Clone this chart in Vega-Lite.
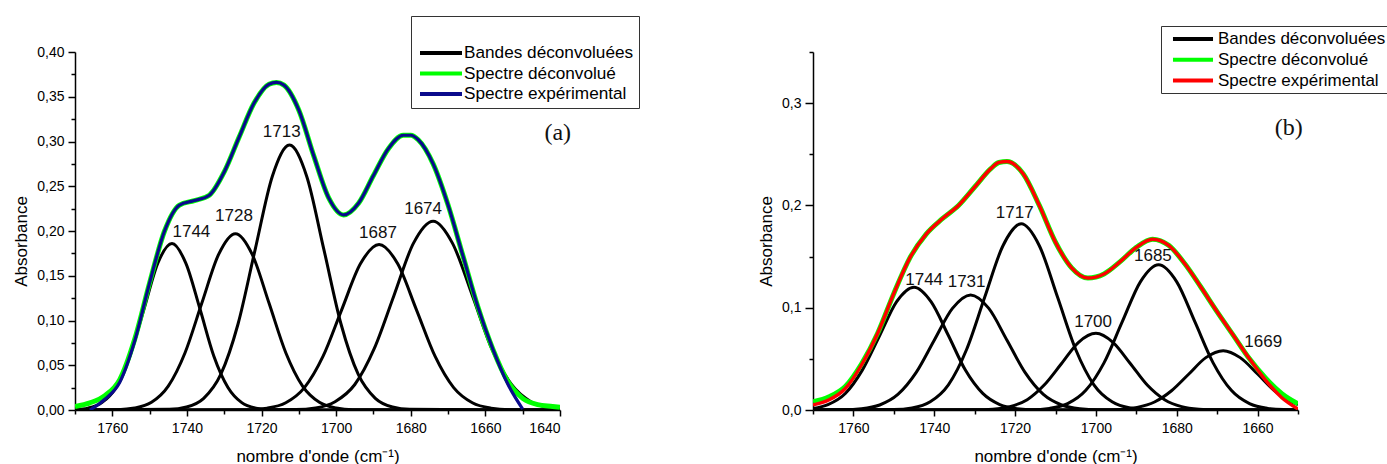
{
  "$schema": "https://vega.github.io/schema/vega-lite/v6.json",
  "padding": {"left": 12, "top": 15, "right": 0, "bottom": 0},
  "config": {
    "view": {"stroke": null},
    "font": "Liberation Sans",
    "axis": {"domainColor": "#000", "domainWidth": 1.5, "tickColor": "#000", "tickWidth": 1.5, "labelColor": "#000", "labelFont": "Liberation Sans", "labelFontSize": 14, "titleFont": "Liberation Sans", "titleFontSize": 17, "titleFontWeight": "normal", "titleColor": "#000", "grid": false}
  },
  "spacing": 253,
  "bounds": "flush",
  "resolve": {"scale": {"x": "independent", "y": "independent", "color": "independent"}},
  "datasets": {
    "a_bands": [
      {"b":1,"w":1770,"a":0.0004},{"b":1,"w":1766.5,"a":0.0021},{"b":1,"w":1762.8,"a":0.0082},{"b":1,"w":1759,"a":0.0252},{"b":1,"w":1755.3,"a":0.0604},{"b":1,"w":1751.5,"a":0.1128},{"b":1,"w":1747.8,"a":0.1641},{"b":1,"w":1744,"a":0.186},{"b":1,"w":1740.3,"a":0.1641},{"b":1,"w":1736.5,"a":0.1128},{"b":1,"w":1732.8,"a":0.0604},{"b":1,"w":1729,"a":0.0252},{"b":1,"w":1725.3,"a":0.0082},{"b":1,"w":1721.5,"a":0.0021},{"b":1,"w":1717.8,"a":0.0004},{"b":1,"w":1640,"a":0},
      {"b":2,"w":1770,"a":0},{"b":2,"w":1758.5,"a":0.0004},{"b":2,"w":1754,"a":0.0022},{"b":2,"w":1749.5,"a":0.0086},{"b":2,"w":1745,"a":0.0267},{"b":2,"w":1740.5,"a":0.064},{"b":2,"w":1736,"a":0.1195},{"b":2,"w":1731.5,"a":0.1739},{"b":2,"w":1727,"a":0.197},{"b":2,"w":1722.5,"a":0.1739},{"b":2,"w":1718,"a":0.1195},{"b":2,"w":1713.5,"a":0.064},{"b":2,"w":1709,"a":0.0267},{"b":2,"w":1704.5,"a":0.0086},{"b":2,"w":1700,"a":0.0022},{"b":2,"w":1695.5,"a":0.0004},{"b":2,"w":1640,"a":0},
      {"b":3,"w":1770,"a":0},{"b":3,"w":1744.7,"a":0.0007},{"b":3,"w":1740.1,"a":0.0033},{"b":3,"w":1735.5,"a":0.013},{"b":3,"w":1730.9,"a":0.04},{"b":3,"w":1726.3,"a":0.0961},{"b":3,"w":1721.7,"a":0.1795},{"b":3,"w":1717.1,"a":0.2612},{"b":3,"w":1712.5,"a":0.296},{"b":3,"w":1707.9,"a":0.2612},{"b":3,"w":1703.3,"a":0.1795},{"b":3,"w":1698.7,"a":0.0961},{"b":3,"w":1694.1,"a":0.04},{"b":3,"w":1689.5,"a":0.013},{"b":3,"w":1684.9,"a":0.0033},{"b":3,"w":1680.3,"a":0.0007},{"b":3,"w":1640,"a":0},
      {"b":4,"w":1770,"a":0},{"b":4,"w":1723.5,"a":0.0004},{"b":4,"w":1718.5,"a":0.0021},{"b":4,"w":1713.5,"a":0.0081},{"b":4,"w":1708.5,"a":0.025},{"b":4,"w":1703.5,"a":0.0601},{"b":4,"w":1698.5,"a":0.1122},{"b":4,"w":1693.5,"a":0.1633},{"b":4,"w":1688.5,"a":0.185},{"b":4,"w":1683.5,"a":0.1633},{"b":4,"w":1678.5,"a":0.1122},{"b":4,"w":1673.5,"a":0.0601},{"b":4,"w":1668.5,"a":0.025},{"b":4,"w":1663.5,"a":0.0081},{"b":4,"w":1658.5,"a":0.0021},{"b":4,"w":1653.5,"a":0.0004},{"b":4,"w":1640,"a":0},
      {"b":5,"w":1770,"a":0},{"b":5,"w":1710.8,"a":0.0005},{"b":5,"w":1705.5,"a":0.0023},{"b":5,"w":1700.3,"a":0.0093},{"b":5,"w":1695,"a":0.0285},{"b":5,"w":1689.8,"a":0.0685},{"b":5,"w":1684.5,"a":0.128},{"b":5,"w":1679.3,"a":0.1862},{"b":5,"w":1674,"a":0.211},{"b":5,"w":1668.8,"a":0.1862},{"b":5,"w":1663.5,"a":0.128},{"b":5,"w":1658.3,"a":0.0685},{"b":5,"w":1653,"a":0.0285},{"b":5,"w":1647.8,"a":0.0093},{"b":5,"w":1642.5,"a":0.0023},{"b":5,"w":1640,"a":0.001}
    ],
    "a_green": [
      {"w":1770,"a":0.004},{"w":1766,"a":0.008},{"w":1762,"a":0.016},{"w":1758,"a":0.034},{"w":1754,"a":0.079},{"w":1750,"a":0.142},{"w":1746,"a":0.2},{"w":1742,"a":0.229},{"w":1738,"a":0.234},{"w":1734,"a":0.24},{"w":1730,"a":0.266},{"w":1726,"a":0.305},{"w":1722,"a":0.343},{"w":1718,"a":0.364},{"w":1716,"a":0.366},{"w":1714,"a":0.363},{"w":1710,"a":0.335},{"w":1706,"a":0.284},{"w":1702,"a":0.237},{"w":1698,"a":0.218},{"w":1694,"a":0.231},{"w":1690,"a":0.262},{"w":1686,"a":0.292},{"w":1682,"a":0.307},{"w":1680,"a":0.307},{"w":1678,"a":0.302},{"w":1674,"a":0.275},{"w":1670,"a":0.229},{"w":1666,"a":0.172},{"w":1662,"a":0.115},{"w":1658,"a":0.068},{"w":1654,"a":0.032},{"w":1650,"a":0.013},{"w":1646,"a":0.006},{"w":1642,"a":0.004},{"w":1640,"a":0.003}
    ],
    "a_blue": [
      {"w":1766,"a":0},{"w":1762,"a":0.012},{"w":1758,"a":0.031},{"w":1754,"a":0.077},{"w":1750,"a":0.142},{"w":1746,"a":0.2},{"w":1742,"a":0.229},{"w":1738,"a":0.234},{"w":1734,"a":0.24},{"w":1730,"a":0.266},{"w":1726,"a":0.305},{"w":1722,"a":0.343},{"w":1718,"a":0.364},{"w":1716,"a":0.366},{"w":1714,"a":0.363},{"w":1710,"a":0.335},{"w":1706,"a":0.284},{"w":1702,"a":0.237},{"w":1698,"a":0.218},{"w":1694,"a":0.231},{"w":1690,"a":0.262},{"w":1686,"a":0.292},{"w":1682,"a":0.307},{"w":1680,"a":0.307},{"w":1678,"a":0.302},{"w":1674,"a":0.275},{"w":1670,"a":0.229},{"w":1666,"a":0.172},{"w":1662,"a":0.115},{"w":1658,"a":0.068},{"w":1654,"a":0.029},{"w":1650,"a":0.001}
    ],
    "a_lab": [
      {"t":"1744","w":1738.8,"a":0.199},{"t":"1728","w":1727.4,"a":0.217},{"t":"1713","w":1714.6,"a":0.311},{"t":"1687","w":1688.8,"a":0.198},{"t":"1674","w":1676.7,"a":0.225}
    ],
    "a_tag": [{"t":"(a)","w":1640.6,"a":0.31}],
    "b_bands": [
      {"b":1,"w":1770,"a":0.0015},{"b":1,"w":1766.3,"a":0.0053},{"b":1,"w":1762,"a":0.0162},{"b":1,"w":1757.8,"a":0.039},{"b":1,"w":1753.5,"a":0.0728},{"b":1,"w":1749.3,"a":0.1059},{"b":1,"w":1745,"a":0.12},{"b":1,"w":1740.8,"a":0.1059},{"b":1,"w":1736.5,"a":0.0728},{"b":1,"w":1732.3,"a":0.039},{"b":1,"w":1728,"a":0.0162},{"b":1,"w":1723.8,"a":0.0053},{"b":1,"w":1719.5,"a":0.0013},{"b":1,"w":1715.3,"a":0.0003},{"b":1,"w":1650,"a":0},
      {"b":2,"w":1770,"a":0},{"b":2,"w":1762.5,"a":0.0002},{"b":2,"w":1758,"a":0.0012},{"b":2,"w":1753.5,"a":0.0049},{"b":2,"w":1749,"a":0.0152},{"b":2,"w":1744.5,"a":0.0365},{"b":2,"w":1740,"a":0.0682},{"b":2,"w":1735.5,"a":0.0993},{"b":2,"w":1731,"a":0.1125},{"b":2,"w":1726.5,"a":0.0993},{"b":2,"w":1722,"a":0.0682},{"b":2,"w":1717.5,"a":0.0365},{"b":2,"w":1713,"a":0.0152},{"b":2,"w":1708.5,"a":0.0049},{"b":2,"w":1704,"a":0.0012},{"b":2,"w":1699.5,"a":0.0002},{"b":2,"w":1650,"a":0},
      {"b":3,"w":1770,"a":0},{"b":3,"w":1750,"a":0.0004},{"b":3,"w":1745.5,"a":0.002},{"b":3,"w":1741,"a":0.008},{"b":3,"w":1736.5,"a":0.0246},{"b":3,"w":1732,"a":0.0591},{"b":3,"w":1727.5,"a":0.1104},{"b":3,"w":1723,"a":0.1606},{"b":3,"w":1718.5,"a":0.182},{"b":3,"w":1714,"a":0.1606},{"b":3,"w":1709.5,"a":0.1104},{"b":3,"w":1705,"a":0.0591},{"b":3,"w":1700.5,"a":0.0246},{"b":3,"w":1696,"a":0.008},{"b":3,"w":1691.5,"a":0.002},{"b":3,"w":1687,"a":0.0004},{"b":3,"w":1650,"a":0},
      {"b":4,"w":1770,"a":0},{"b":4,"w":1729.8,"a":0.0002},{"b":4,"w":1725.5,"a":0.0008},{"b":4,"w":1721.3,"a":0.0033},{"b":4,"w":1717,"a":0.0101},{"b":4,"w":1712.8,"a":0.0244},{"b":4,"w":1708.5,"a":0.0455},{"b":4,"w":1704.3,"a":0.0662},{"b":4,"w":1700,"a":0.075},{"b":4,"w":1695.8,"a":0.0662},{"b":4,"w":1691.5,"a":0.0455},{"b":4,"w":1687.3,"a":0.0244},{"b":4,"w":1683,"a":0.0101},{"b":4,"w":1678.8,"a":0.0033},{"b":4,"w":1674.5,"a":0.0008},{"b":4,"w":1670.3,"a":0.0002},{"b":4,"w":1650,"a":0},
      {"b":5,"w":1770,"a":0},{"b":5,"w":1716,"a":0.0003},{"b":5,"w":1711.5,"a":0.0016},{"b":5,"w":1707,"a":0.0062},{"b":5,"w":1702.5,"a":0.0192},{"b":5,"w":1698,"a":0.0461},{"b":5,"w":1693.5,"a":0.0861},{"b":5,"w":1689,"a":0.1253},{"b":5,"w":1684.5,"a":0.142},{"b":5,"w":1680,"a":0.1253},{"b":5,"w":1675.5,"a":0.0861},{"b":5,"w":1671,"a":0.0461},{"b":5,"w":1666.5,"a":0.0192},{"b":5,"w":1662,"a":0.0062},{"b":5,"w":1657.5,"a":0.0016},{"b":5,"w":1653,"a":0.0003},{"b":5,"w":1650,"a":0},
      {"b":6,"w":1770,"a":0},{"b":6,"w":1698.3,"a":0.0001},{"b":6,"w":1694,"a":0.0006},{"b":6,"w":1689.8,"a":0.0025},{"b":6,"w":1685.5,"a":0.0078},{"b":6,"w":1681.3,"a":0.0188},{"b":6,"w":1677,"a":0.0352},{"b":6,"w":1672.8,"a":0.0512},{"b":6,"w":1668.5,"a":0.058},{"b":6,"w":1664.3,"a":0.0512},{"b":6,"w":1660,"a":0.0352},{"b":6,"w":1655.8,"a":0.0188},{"b":6,"w":1651.5,"a":0.0078},{"b":6,"w":1650,"a":0.0054}
    ],
    "b_green": [
      {"w":1770,"a":0.008},{"w":1766,"a":0.013},{"w":1762,"a":0.023},{"w":1758,"a":0.045},{"w":1754,"a":0.075},{"w":1750,"a":0.114},{"w":1746,"a":0.149},{"w":1742,"a":0.172},{"w":1738,"a":0.187},{"w":1734,"a":0.2},{"w":1730,"a":0.218},{"w":1726,"a":0.236},{"w":1724,"a":0.242},{"w":1722,"a":0.243},{"w":1718,"a":0.231},{"w":1714,"a":0.2},{"w":1710,"a":0.164},{"w":1706,"a":0.139},{"w":1702,"a":0.129},{"w":1698,"a":0.133},{"w":1694,"a":0.145},{"w":1690,"a":0.159},{"w":1686,"a":0.167},{"w":1682,"a":0.161},{"w":1678,"a":0.143},{"w":1674,"a":0.12},{"w":1670,"a":0.096},{"w":1666,"a":0.073},{"w":1662,"a":0.05},{"w":1658,"a":0.031},{"w":1654,"a":0.016},{"w":1650,"a":0.006}
    ],
    "b_red": [
      {"w":1770,"a":0.005},{"w":1766,"a":0.01},{"w":1762,"a":0.021},{"w":1758,"a":0.044},{"w":1754,"a":0.075},{"w":1750,"a":0.114},{"w":1746,"a":0.149},{"w":1742,"a":0.172},{"w":1738,"a":0.187},{"w":1734,"a":0.2},{"w":1730,"a":0.218},{"w":1726,"a":0.236},{"w":1724,"a":0.242},{"w":1722,"a":0.243},{"w":1718,"a":0.231},{"w":1714,"a":0.2},{"w":1710,"a":0.164},{"w":1706,"a":0.139},{"w":1702,"a":0.129},{"w":1698,"a":0.133},{"w":1694,"a":0.145},{"w":1690,"a":0.159},{"w":1686,"a":0.167},{"w":1682,"a":0.161},{"w":1678,"a":0.143},{"w":1674,"a":0.12},{"w":1670,"a":0.096},{"w":1666,"a":0.073},{"w":1662,"a":0.05},{"w":1658,"a":0.029},{"w":1654,"a":0.012},{"w":1650,"a":0.001}
    ],
    "b_lab": [
      {"t":"1744","w":1742.5,"a":0.127},{"t":"1731","w":1732,"a":0.1255},{"t":"1717","w":1720.1,"a":0.1924},{"t":"1700","w":1700.7,"a":0.0864},{"t":"1685","w":1685.9,"a":0.1506},{"t":"1669","w":1658.6,"a":0.0668}
    ],
    "b_tag": [{"t":"(b)","w":1652.3,"a":0.276}]
  },
  "hconcat": [
    {
      "width": 485,
      "height": 358,
      "resolve": {"axis": {"x": "independent", "y": "independent"}},
      "layer": [
        {
          "data": {"name": "a_bands"},
          "mark": {"type": "line", "interpolate": "monotone", "strokeWidth": 3, "clip": true},
          "encoding": {
            "x": {"field": "w", "type": "quantitative", "scale": {"domain": [1770, 1640], "nice": false, "zero": false},
                  "axis": {"orient": "bottom", "values": [1760, 1740, 1720, 1700, 1680, 1660, 1640], "format": "d", "tickSize": 6, "labelPadding": 5, "title": "nombre d'onde (cm⁻¹)", "titleX": 242.5, "titleY": 51, "titleBaseline": "alphabetic", "titleAlign": "center"}},
            "y": {"field": "a", "type": "quantitative", "scale": {"domain": [0, 0.4], "nice": false, "zero": false},
                  "axis": {"orient": "left", "values": [0, 0.05, 0.1, 0.15, 0.2, 0.25, 0.3, 0.35, 0.4], "labelExpr": "replace(format(datum.value, '.2f'), '.', ',')", "tickSize": 7, "labelPadding": 4, "title": "Absorbance", "titleX": -49, "titleY": 189, "titleAngle": 270, "titleBaseline": "alphabetic", "titleAlign": "center"}},
            "detail": {"field": "b"},
            "order": {"field": "w", "sort": "descending"},
            "color": {"datum": "Bandes déconvoluées", "type": "nominal",
                      "scale": {"domain": ["Bandes déconvoluées", "Spectre déconvolué", "Spectre expérimental"], "range": ["#000000", "#00ff00", "#0a0a8c"]},
                      "legend": {"orient": "none", "legendX": 336, "legendY": -36, "title": " ", "titleFontSize": 16, "titlePadding": 7, "symbolType": "M-3,0H3", "symbolSize": 196, "symbolStrokeWidth": 4, "symbolOffset": 16, "labelFontSize": 17.2, "labelFont": "Liberation Sans", "labelColor": "#000", "labelLimit": 300, "labelOffset": 14, "strokeColor": "#333", "padding": 5, "rowPadding": 2.5}}
          }
        },
        {
          "data": {"name": "a_green"},
          "mark": {"type": "line", "interpolate": "monotone", "strokeWidth": 5, "clip": true},
          "encoding": {
            "x": {"field": "w", "type": "quantitative", "scale": {"domain": [1770, 1640], "nice": false, "zero": false}, "axis": null},
            "y": {"field": "a", "type": "quantitative", "scale": {"domain": [0, 0.4], "nice": false, "zero": false}, "axis": null},
            "order": {"field": "w", "sort": "descending"},
            "color": {"datum": "Spectre déconvolué", "type": "nominal"}
          }
        },
        {
          "data": {"name": "a_blue"},
          "mark": {"type": "line", "interpolate": "monotone", "strokeWidth": 3.2, "clip": true},
          "encoding": {
            "x": {"field": "w", "type": "quantitative", "scale": {"domain": [1770, 1640], "nice": false, "zero": false}, "axis": null},
            "y": {"field": "a", "type": "quantitative", "scale": {"domain": [0, 0.4], "nice": false, "zero": false}, "axis": null},
            "order": {"field": "w", "sort": "descending"},
            "color": {"datum": "Spectre expérimental", "type": "nominal"}
          }
        },
        {
          "data": {"name": "a_bands"},
          "mark": {"type": "point", "opacity": 0},
          "encoding": {
            "x": {"field": "w", "type": "quantitative", "scale": {"domain": [1770, 1640], "nice": false, "zero": false},
                  "axis": {"orient": "bottom", "values": [1770, 1750, 1730, 1710, 1690, 1670, 1650], "labels": false, "domain": false, "tickSize": 4, "title": null}},
            "y": {"field": "a", "type": "quantitative", "scale": {"domain": [0, 0.4], "nice": false, "zero": false},
                  "axis": {"orient": "left", "values": [0.025, 0.075, 0.125, 0.175, 0.225, 0.275, 0.325, 0.375], "labels": false, "domain": false, "tickSize": 4, "title": null}}
          }
        },
        {
          "data": {"name": "a_lab"},
          "mark": {"type": "text", "font": "Liberation Sans", "fontSize": 17, "color": "#111", "align": "center", "baseline": "middle"},
          "encoding": {
            "x": {"field": "w", "type": "quantitative", "scale": {"domain": [1770, 1640], "nice": false, "zero": false}, "axis": null},
            "y": {"field": "a", "type": "quantitative", "scale": {"domain": [0, 0.4], "nice": false, "zero": false}, "axis": null},
            "text": {"field": "t"}
          }
        },
        {
          "data": {"name": "a_tag"},
          "mark": {"type": "text", "font": "Liberation Serif", "fontSize": 24, "color": "#111", "align": "center", "baseline": "middle"},
          "encoding": {
            "x": {"field": "w", "type": "quantitative", "scale": {"domain": [1770, 1640], "nice": false, "zero": false}, "axis": null},
            "y": {"field": "a", "type": "quantitative", "scale": {"domain": [0, 0.4], "nice": false, "zero": false}, "axis": null},
            "text": {"field": "t"}
          }
        }
      ]
    },
    {
      "width": 485,
      "height": 358,
      "resolve": {"axis": {"x": "independent", "y": "independent"}},
      "layer": [
        {
          "data": {"name": "b_bands"},
          "mark": {"type": "line", "interpolate": "monotone", "strokeWidth": 3, "clip": true},
          "encoding": {
            "x": {"field": "w", "type": "quantitative", "scale": {"domain": [1770, 1650], "nice": false, "zero": false},
                  "axis": {"orient": "bottom", "values": [1760, 1740, 1720, 1700, 1680, 1660], "format": "d", "tickSize": 6, "labelPadding": 5, "title": "nombre d'onde (cm⁻¹)", "titleX": 242.5, "titleY": 51, "titleBaseline": "alphabetic", "titleAlign": "center"}},
            "y": {"field": "a", "type": "quantitative", "scale": {"domain": [0, 0.35], "nice": false, "zero": false},
                  "axis": {"orient": "left", "values": [0, 0.1, 0.2, 0.3], "labelExpr": "replace(format(datum.value, '.1f'), '.', ',')", "tickSize": 8, "labelPadding": 4, "title": "Absorbance", "titleX": -42, "titleY": 189, "titleAngle": 270, "titleBaseline": "alphabetic", "titleAlign": "center"}},
            "detail": {"field": "b"},
            "order": {"field": "w", "sort": "descending"},
            "color": {"datum": "Bandes déconvoluées", "type": "nominal",
                      "scale": {"domain": ["Bandes déconvoluées", "Spectre déconvolué", "Spectre expérimental"], "range": ["#000000", "#00ff00", "#ff0000"]},
                      "legend": {"orient": "none", "legendX": 348, "legendY": -26, "title": null, "symbolType": "M-3,0H3", "symbolSize": 178, "symbolStrokeWidth": 4, "symbolOffset": 19, "labelFontSize": 17, "labelFont": "Liberation Sans", "labelColor": "#000", "labelLimit": 300, "labelOffset": 16, "strokeColor": "#333", "padding": 4, "rowPadding": 3.8}}
          }
        },
        {
          "data": {"name": "b_green"},
          "mark": {"type": "line", "interpolate": "monotone", "strokeWidth": 5, "clip": true},
          "encoding": {
            "x": {"field": "w", "type": "quantitative", "scale": {"domain": [1770, 1650], "nice": false, "zero": false}, "axis": null},
            "y": {"field": "a", "type": "quantitative", "scale": {"domain": [0, 0.35], "nice": false, "zero": false}, "axis": null},
            "order": {"field": "w", "sort": "descending"},
            "color": {"datum": "Spectre déconvolué", "type": "nominal"}
          }
        },
        {
          "data": {"name": "b_red"},
          "mark": {"type": "line", "interpolate": "monotone", "strokeWidth": 3.4, "clip": true},
          "encoding": {
            "x": {"field": "w", "type": "quantitative", "scale": {"domain": [1770, 1650], "nice": false, "zero": false}, "axis": null},
            "y": {"field": "a", "type": "quantitative", "scale": {"domain": [0, 0.35], "nice": false, "zero": false}, "axis": null},
            "order": {"field": "w", "sort": "descending"},
            "color": {"datum": "Spectre expérimental", "type": "nominal"}
          }
        },
        {
          "data": {"name": "b_bands"},
          "mark": {"type": "point", "opacity": 0},
          "encoding": {
            "x": {"field": "w", "type": "quantitative", "scale": {"domain": [1770, 1650], "nice": false, "zero": false},
                  "axis": {"orient": "bottom", "values": [1770, 1750, 1730, 1710, 1690, 1670, 1650], "labels": false, "domain": false, "tickSize": 4, "title": null}},
            "y": {"field": "a", "type": "quantitative", "scale": {"domain": [0, 0.35], "nice": false, "zero": false},
                  "axis": {"orient": "left", "values": [0.05, 0.15, 0.25, 0.35], "labels": false, "domain": false, "tickSize": 4, "title": null}}
          }
        },
        {
          "data": {"name": "b_lab"},
          "mark": {"type": "text", "font": "Liberation Sans", "fontSize": 17, "color": "#111", "align": "center", "baseline": "middle"},
          "encoding": {
            "x": {"field": "w", "type": "quantitative", "scale": {"domain": [1770, 1650], "nice": false, "zero": false}, "axis": null},
            "y": {"field": "a", "type": "quantitative", "scale": {"domain": [0, 0.35], "nice": false, "zero": false}, "axis": null},
            "text": {"field": "t"}
          }
        },
        {
          "data": {"name": "b_tag"},
          "mark": {"type": "text", "font": "Liberation Serif", "fontSize": 24, "color": "#111", "align": "center", "baseline": "middle"},
          "encoding": {
            "x": {"field": "w", "type": "quantitative", "scale": {"domain": [1770, 1650], "nice": false, "zero": false}, "axis": null},
            "y": {"field": "a", "type": "quantitative", "scale": {"domain": [0, 0.35], "nice": false, "zero": false}, "axis": null},
            "text": {"field": "t"}
          }
        }
      ]
    }
  ]
}
